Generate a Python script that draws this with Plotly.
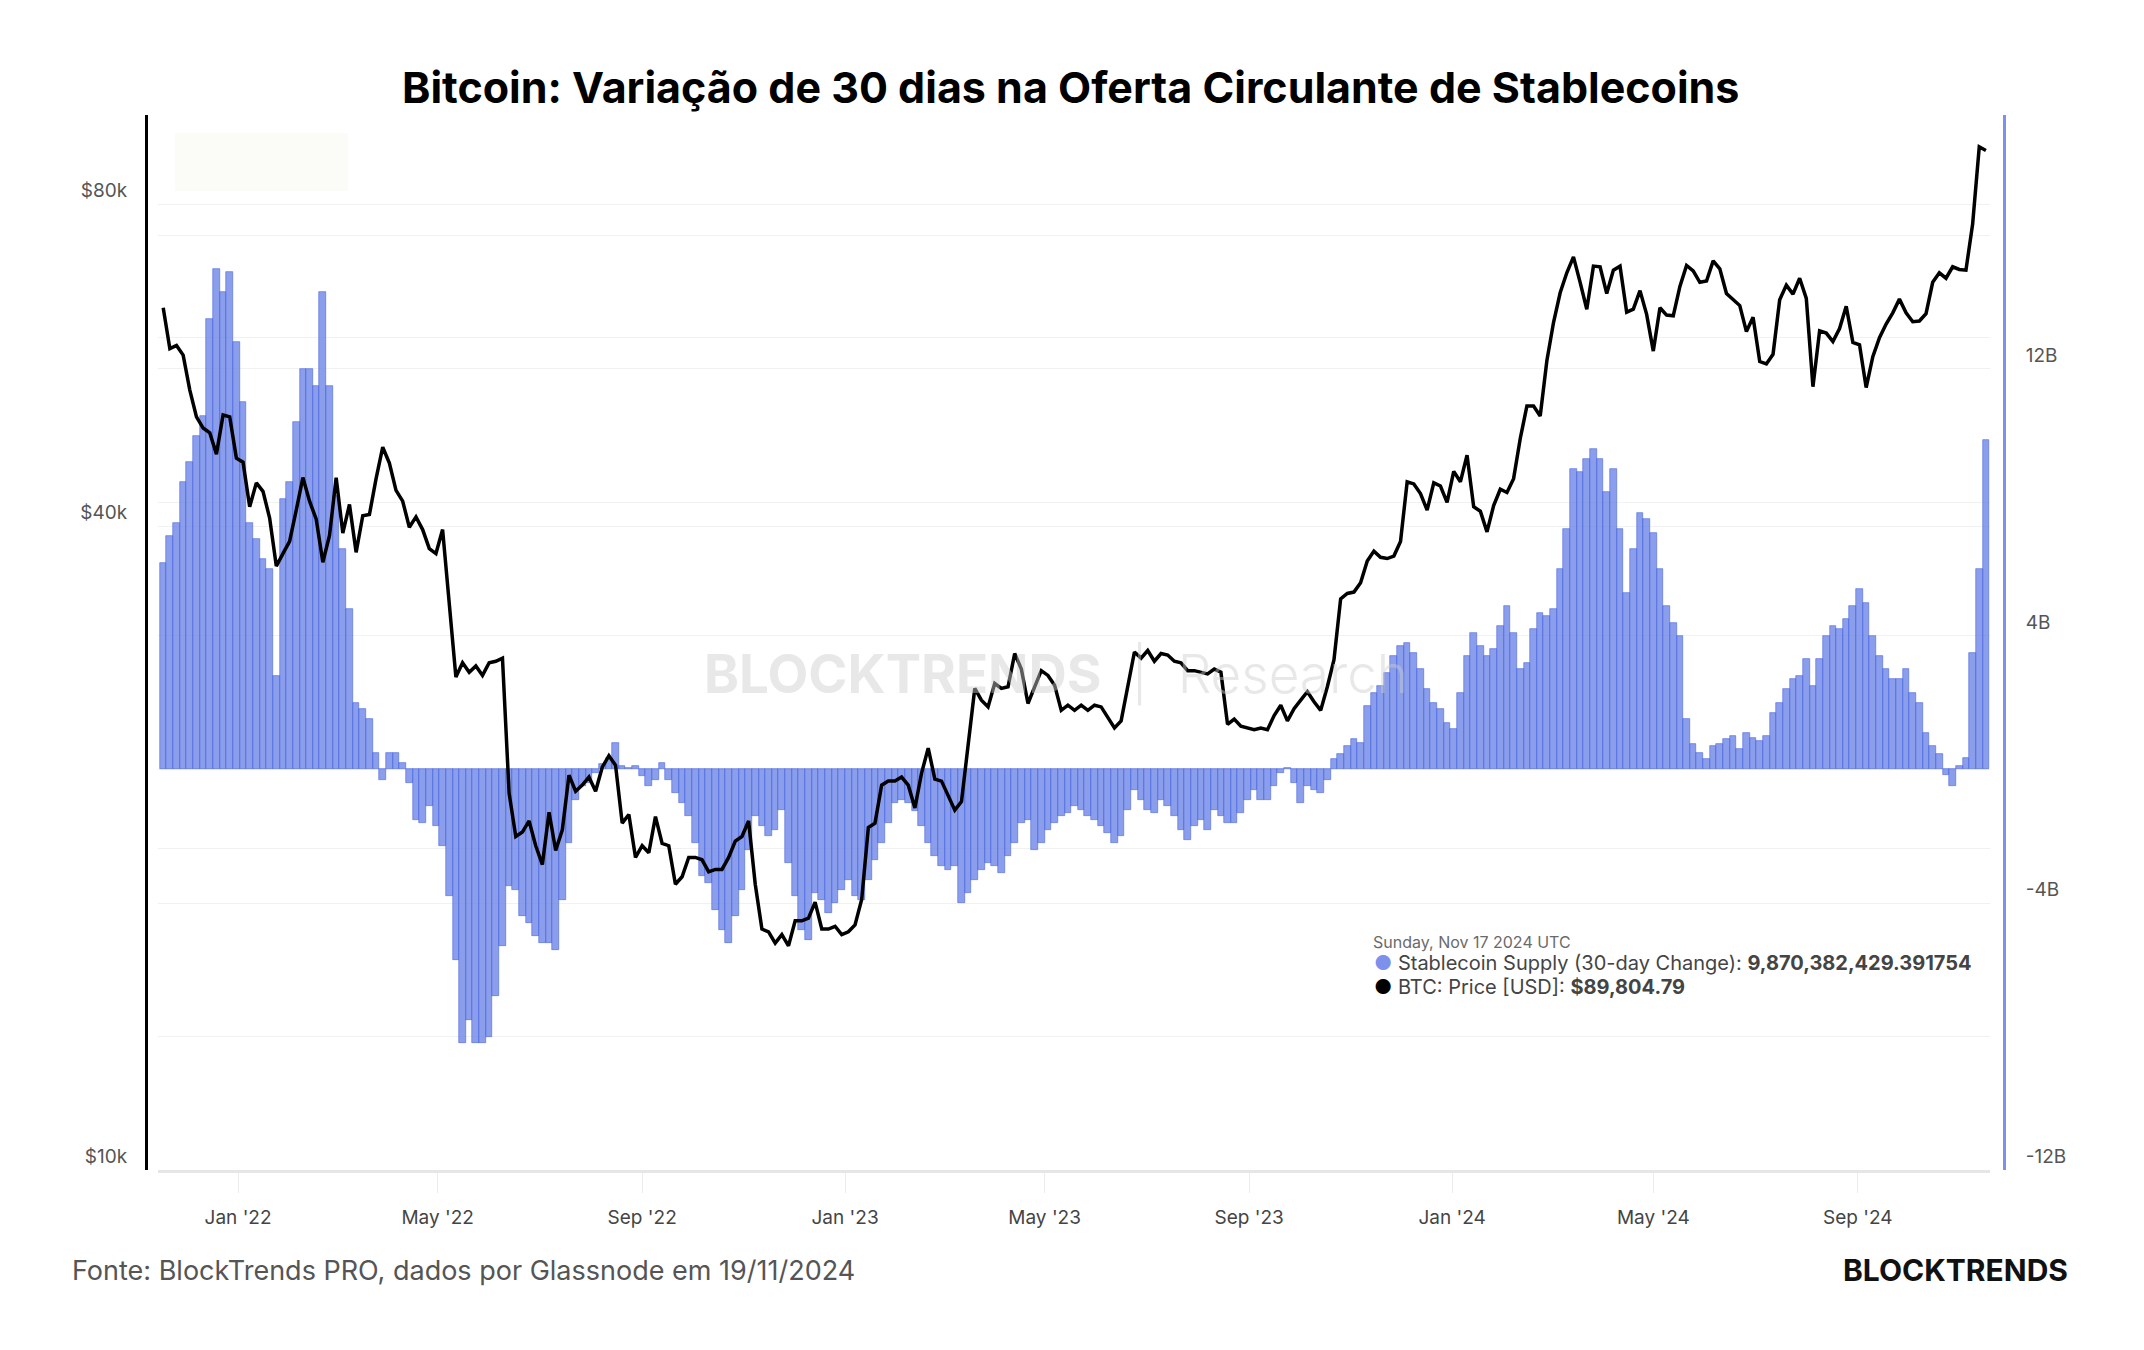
import plotly.graph_objects as go
import pandas as pd

# ---------------- data ----------------
title_text = "Bitcoin: Variação de 30 dias na Oferta Circulante de Stablecoins"
source_text = "Fonte: BlockTrends PRO, dados por Glassnode em 19/11/2024"
brand_text = "BLOCKTRENDS"
series_stable = "Stablecoin Supply (30-day Change)"
series_btc = "BTC: Price [USD]"
hover_date = "Sunday, Nov 17 2024 UTC"
hover_stable = "9,870,382,429.391754"
hover_btc = "$89,804.79"

start_date = "2021-11-17"   # one sample every 4 days up to 2024-11-17
step_days = 4

# BTC price (USD thousands), 4-day samples
btc_2021 = [64.0, 58.6, 59.0, 57.8, 53.6, 50.6, 49.4, 48.9, 46.7, 50.8, 50.6, 46.3]
btc_2022 = [45.9, 41.7, 43.9, 43.1, 40.7, 36.7, 37.7,
            38.7, 41.4, 44.4, 42.2, 40.6, 37.0, 39.2,
            44.4, 39.4, 41.9, 37.8, 40.9, 41.0, 44.3, 47.4,
            45.8, 43.2, 42.2, 39.9, 40.8, 39.7, 38.1, 37.7,
            39.7, 34.0, 28.9, 29.8, 29.2, 29.6, 29.0,
            29.8, 29.9, 30.1, 22.5, 20.5, 20.7, 21.2, 20.1,
            19.3, 21.6, 19.9, 20.8, 23.4, 22.6, 22.9, 23.3,
            22.6, 23.8, 24.4, 23.9, 21.1, 21.5, 19.6,
            20.1, 19.8, 21.4, 20.2, 20.1, 18.5, 18.8, 19.6,
            19.6, 19.5, 19.0, 19.1, 19.1, 19.6, 20.3, 20.5,
            21.2, 18.5, 16.8, 16.7, 16.3, 16.6, 16.2,
            17.1, 17.1, 17.2, 17.8, 16.8, 16.8, 16.9, 16.6]
btc_2023 = [16.7, 16.95, 17.9, 20.9, 21.1, 22.9, 23.1, 23.1,
            23.3, 22.9, 21.8, 23.5, 24.8, 23.2, 23.1,
            22.4, 21.7, 22.1, 25.0, 28.2, 27.5, 27.1,
            28.5, 28.2, 28.3, 30.4, 29.4, 27.3, 28.3, 29.3,
            29.0, 28.4, 26.9, 27.2, 26.9, 27.2, 26.9, 27.2,
            27.1, 26.5, 25.9, 26.3, 28.3, 30.5, 30.1,
            30.6, 29.9, 30.4, 30.3, 29.9, 29.8, 29.3, 29.3,
            29.2, 29.1, 29.4, 29.2, 26.1, 26.4, 26.0, 25.9,
            25.8, 25.9, 25.8, 26.6, 27.2, 26.3, 27.0,
            27.5, 28.0, 27.4, 26.9, 28.3, 30.0, 34.2, 34.6,
            34.7, 35.4, 37.1, 37.9, 37.4, 37.3, 37.5,
            38.7, 44.0, 43.8, 42.9, 41.4, 43.9, 43.6, 42.1]
btc_2024 = [45.0, 44.0, 46.6, 41.7, 41.3, 39.5, 41.8, 43.3,
            43.0, 44.3, 48.3, 51.8, 51.8, 50.7, 57.1,
            62.0, 66.1, 69.0, 71.4, 67.6, 63.8, 70.0, 69.9,
            66.0, 69.4, 70.0, 63.4, 63.8, 66.4, 63.1,
            58.3, 64.0, 63.0, 62.9, 67.0, 70.1, 69.3, 67.6,
            67.8, 70.8, 69.6, 66.0, 65.1, 64.3, 60.8, 62.7,
            57.0, 56.7, 57.9, 65.1, 67.2, 65.9, 68.2,
            65.3, 54.0, 60.9, 60.6, 59.5, 61.2, 64.2, 59.4,
            59.1, 53.9, 57.6, 60.0, 61.8, 63.3, 65.2, 63.3,
            62.1, 62.2, 63.2, 67.6, 69.0, 68.2, 69.9,
            69.5, 69.4, 76.6, 90.5, 89.8]

# Stablecoin supply, 30-day change (USD billions), same 4-day samples
stb_2021 = [6.2, 7.0, 7.4, 8.6, 9.2, 10.0, 10.6, 13.5, 15.0, 14.3, 14.9, 12.8]
stb_2022 = [11.0, 7.4, 6.9, 6.3, 6.0, 2.8, 8.1, 8.6, 10.4, 12.0, 12.0, 11.5, 14.3,
            11.5, 8.2, 6.6, 4.8, 2.0, 1.8, 1.5, 0.5, -0.3, 0.5, 0.5, 0.2, -0.4,
            -1.5, -1.6, -1.1, -1.7, -2.3, -3.8, -5.7, -8.2, -7.5, -8.2, -8.2, -8.0,
            -6.8, -5.3, -3.5, -3.6, -4.4, -4.6, -5.0, -5.2, -5.2, -5.4, -3.9, -2.2,
            -0.9, -0.5, -0.4, -0.1, 0.15, 0.35, 0.8, 0.1, 0.05, 0.1, -0.2, -0.5,
            -0.3, 0.2, -0.3, -0.7, -1.0, -1.4, -2.2, -3.2, -3.4, -4.2, -4.8, -5.2,
            -4.4, -3.6, -2.4, -1.4, -1.7, -2.0, -1.8, -1.2, -2.8, -3.8, -4.8, -5.1,
            -3.7, -3.9, -4.3, -4.0, -3.6]
stb_2023 = [-3.3, -3.8, -3.9, -3.3, -2.7, -2.2, -1.6, -1.0, -0.9, -1.0, -1.25,
            -1.7, -2.2, -2.6, -2.9, -3.0, -2.9, -4.0, -3.7, -3.3, -3.0, -2.8, -2.9,
            -3.1, -2.6, -2.2, -1.6, -1.5, -2.4, -2.2, -1.8, -1.6, -1.4, -1.3, -1.1,
            -1.2, -1.4, -1.5, -1.7, -1.9, -2.2, -2.0, -1.2, -0.6, -0.9, -1.2, -1.3,
            -0.9, -1.1, -1.4, -1.8, -2.1, -1.7, -1.5, -1.8, -1.2, -1.4, -1.6, -1.6,
            -1.3, -0.9, -0.6, -0.9, -0.9, -0.5, -0.1, 0.05, -0.4, -1.0, -0.5, -0.6,
            -0.7, -0.3, 0.3, 0.45, 0.7, 0.9, 0.8, 1.9, 2.3, 2.5, 2.9, 3.4, 3.7, 3.8,
            3.5, 3.0, 2.4, 2.0, 1.8, 1.4]
stb_2024 = [1.2, 2.3, 3.4, 4.1, 3.7, 3.4, 3.6, 4.3, 4.9, 4.1, 3.0, 3.2, 4.2, 4.7,
            4.6, 4.8, 6.0, 7.2, 9.0, 8.9, 9.3, 9.6, 9.3, 8.3, 9.0, 7.2, 5.3, 6.6,
            7.7, 7.5, 7.1, 6.0, 4.9, 4.4, 4.0, 1.5, 0.75, 0.5, 0.3, 0.7, 0.75, 0.9,
            1.0, 0.6, 1.1, 0.95, 0.85, 1.0, 1.7, 2.0, 2.4, 2.7, 2.8, 3.3, 2.5, 3.3,
            4.0, 4.3, 4.2, 4.5, 4.9, 5.4, 5.0, 4.0, 3.4, 3.0, 2.7, 2.7, 3.0, 2.3,
            2.0, 1.1, 0.7, 0.45, -0.15, -0.5, 0.1, 0.35, 3.5, 6.0, 9.87]

x_tick_dates = ["2022-01-01", "2022-05-01", "2022-09-01", "2023-01-01", "2023-05-01",
                "2023-09-01", "2024-01-01", "2024-05-01", "2024-09-01"]
x_tick_labels = ["Jan '22", "May '22", "Sep '22", "Jan '23", "May '23",
                 "Sep '23", "Jan '24", "May '24", "Sep '24"]
price_tick_vals = [10000, 20000, 40000, 60000, 80000]
price_tick_text = ["$10k", "", "$40k", "", "$80k"]
stable_tick_vals = [-12, -8, -4, 0, 4, 8, 12, 16]
stable_tick_text = ["-12B", "", "-4B", "", "4B", "", "12B", ""]

# ---------------- build ----------------
btc = [v * 1000 for v in (btc_2021 + btc_2022 + btc_2023 + btc_2024)]
stable = stb_2021 + stb_2022 + stb_2023 + stb_2024
dates = pd.date_range(start_date, periods=len(btc), freq=f"{step_days}D")

BLUE = "rgba(98,124,230,0.74)"
AXIS_BLUE = "#7d90ec"
FONT = "Inter"

fig = go.Figure()
fig.add_trace(go.Bar(
    x=dates, y=stable, name=series_stable, yaxis="y",
    marker=dict(color=BLUE, line=dict(color="rgba(66,96,220,0.8)", width=0.7)),
))
fig.add_trace(go.Scatter(
    x=dates, y=btc, name=series_btc, yaxis="y2", mode="lines",
    line=dict(color="#000000", width=3.5),
))

tick_font = dict(family=FONT, size=19, color="#555555")

fig.update_layout(
    width=2144, height=1350,
    margin=dict(l=146, r=140, t=115, b=180),
    paper_bgcolor="white", plot_bgcolor="white",
    showlegend=False, bargap=0,
    font=dict(family=FONT),
    xaxis=dict(
        type="date", domain=[0.0065, 0.9925],
        range=["2021-11-13 22:00", "2024-11-19 12:00"],
        tickmode="array", tickvals=x_tick_dates, ticktext=x_tick_labels,
        showgrid=False, zeroline=False,
        ticks="outside", ticklen=20, tickcolor="#ececec", tickwidth=1,
        showline=True, linecolor="#e6e6e6", linewidth=3,
        tickfont=dict(family=FONT, size=19, color="#444444"),
        ticklabelstandoff=8,
    ),
    yaxis=dict(
        side="right", anchor="free", position=1,
        range=[-12, 19.61],
        tickmode="array", tickvals=stable_tick_vals, ticktext=stable_tick_text,
        showgrid=True, gridcolor="#f1f1f1", gridwidth=1, zeroline=False,
        showline=True, linecolor=AXIS_BLUE, linewidth=3,
        ticks="", tickfont=tick_font, ticklabelposition="outside top",
        ticklabelstandoff=16,
    ),
    yaxis2=dict(
        type="log", overlaying="y", side="left", anchor="free", position=0,
        range=[4, 4.9864],
        tickmode="array", tickvals=price_tick_vals, ticktext=price_tick_text,
        showgrid=True, gridcolor="#f1f1f1", gridwidth=1, zeroline=False,
        showline=True, linecolor="#000000", linewidth=3,
        ticks="", tickfont=tick_font, ticklabelposition="outside top",
        ticklabelstandoff=14,
    ),
)

# faint box top-left
fig.add_shape(type="rect", xref="paper", yref="paper",
              x0=0.0156, x1=0.1087, y0=0.928, y1=0.983,
              fillcolor="#fbfbf8", line=dict(width=0), layer="below")

annotations = [
    # title
    dict(text=f"<b>{title_text}</b>", x=0.4978, y=1.0265, xref="paper", yref="paper",
         xanchor="center", yanchor="middle", showarrow=False,
         font=dict(family=FONT, size=43, color="#000000")),
    # watermark
    dict(text="<b>BLOCKTRENDS</b>  <span style='font-weight:300'>|  Research</span>",
         x=0.490, y=0.470, xref="paper", yref="paper", xanchor="center", yanchor="middle",
         showarrow=False, font=dict(family=FONT, size=53, color="rgba(205,205,205,0.45)")),
    # tooltip-like legend
    dict(text=hover_date, x=0.6593, y=0.2161, xref="paper", yref="paper",
         xanchor="left", yanchor="middle", showarrow=False,
         font=dict(family=FONT, size=16, color="#6a6a6a")),
    dict(text=f"<span style='color:{AXIS_BLUE}'>●</span> {series_stable}: <b>{hover_stable}</b>",
         x=0.6598, y=0.1962, xref="paper", yref="paper",
         xanchor="left", yanchor="middle", showarrow=False,
         font=dict(family=FONT, size=20, color="#444444")),
    dict(text=f"<span style='color:#000000'>●</span> {series_btc}: <b>{hover_btc}</b>",
         x=0.6598, y=0.1735, xref="paper", yref="paper",
         xanchor="left", yanchor="middle", showarrow=False,
         font=dict(family=FONT, size=20, color="#444444")),
    # footer
    dict(text=source_text, x=-0.0409, y=-0.0948, xref="paper", yref="paper",
         xanchor="left", yanchor="middle", showarrow=False,
         font=dict(family=FONT, size=27, color="#555555")),
    dict(text=f"<b>{brand_text}</b>", x=1.0355, y=-0.0948, xref="paper", yref="paper",
         xanchor="right", yanchor="middle", showarrow=False,
         font=dict(family=FONT, size=30, color="#111111", weight=900)),
]
fig.update_layout(annotations=annotations)

fig.write_html("out.html")
